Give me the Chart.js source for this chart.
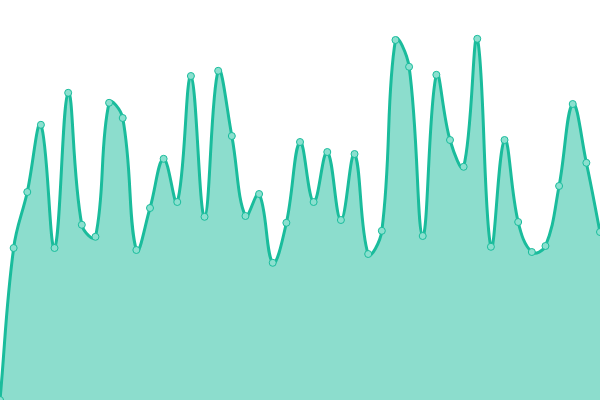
<!DOCTYPE html>
<html>
<head>
<meta charset="utf-8">
<script src="https://cdn.jsdelivr.net/npm/chart.js@4"></script>
<style>
  html, body { margin: 0; padding: 0; background: #fff; }
  #wrap { width: 600px; height: 400px; }
</style>
</head>
<body>
<div id="wrap"><canvas id="chart"></canvas></div>
<script>
// chart values (scale 0..100)
const labels = Array.from({ length: 45 }, (_, i) => 'P' + (i + 1));
const values = [
  0, 38, 52, 68.8, 38, 76.8, 43.8, 40.8, 74.3, 70.5,
  37.5, 48, 60.3, 49.5, 81, 45.8, 82.3, 66, 46, 51.5,
  34.3, 44.3, 64.5, 49.5, 62, 45, 61.5, 36.5, 42.3, 90,
  83.3, 41, 81.3, 65, 58.3, 90.3, 38.3, 65, 44.5, 37,
  38.5, 53.5, 74, 59.3, 42
];
const yMin = 0;
const yMax = 100;

const lineColor = '#1abc9c';
const fillColor = 'rgba(26, 188, 156, 0.5)';

const ctx = document.getElementById('chart').getContext('2d');

new Chart(ctx, {
  type: 'line',
  data: {
    labels,
    datasets: [
      {
        data: values,
        borderColor: lineColor,
        backgroundColor: fillColor,
        borderWidth: 3,
        fill: true,
        tension: 0.4,
        pointRadius: 3.5,
        pointBorderWidth: 1,
        pointBackgroundColor: '#8be0cf',
        pointBorderColor: lineColor,
      },
    ],
  },
  options: {
    responsive: true,
    maintainAspectRatio: false,
    animation: false,
    layout: { padding: 0, autoPadding: false },
    plugins: {
      legend: { display: false },
      tooltip: { enabled: false },
    },
    scales: {
      x: { display: false, offset: false },
      y: { display: false, min: yMin, max: yMax },
    },
  },
});
</script>
</body>
</html>
